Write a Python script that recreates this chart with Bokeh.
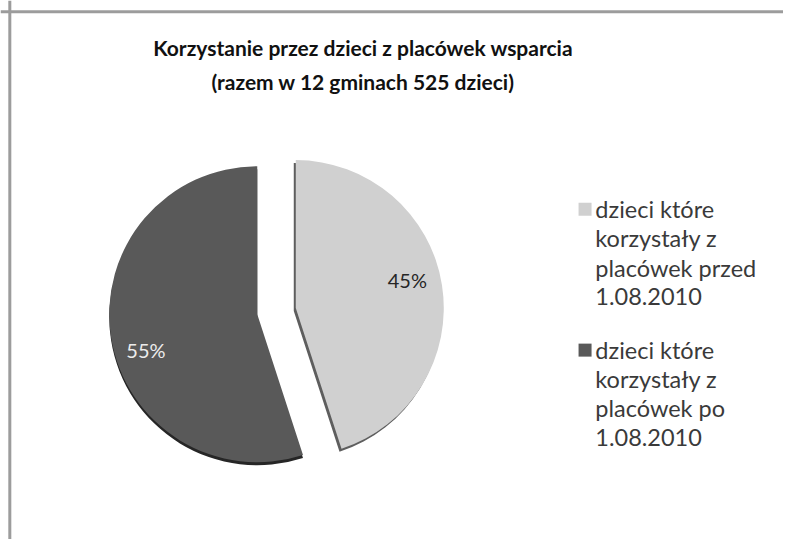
import math
from bokeh.plotting import figure
from bokeh.models import Range1d, Span
from bokeh.core.properties import value
from bokeh.embed import file_html
from bokeh.resources import INLINE

# ---- data ----
title_lines = ["Korzystanie przez dzieci z placówek wsparcia",
               "(razem w 12 gminach 525 dzieci)"]
categories = ["dzieci które korzystały z placówek przed 1.08.2010",
              "dzieci  które korzystały z placówek po 1.08.2010"]
legend_lines = [["dzieci które", "korzystały z", "placówek przed", "1.08.2010"],
                ["dzieci  które", "korzystały z", "placówek po", "1.08.2010"]]
shares = [45, 55]
pct_labels = ["45%", "55%"]
colors = ["#d0d0d0", "#595959"]
edge_colors = ["#5e5e5e", "#262626"]
label_colors = ["#262626", "#ececec"]

W, H = 783, 539
REF_W, REF_H = 799, 555
KX, KY = W / REF_W, H / REF_H
FONT = "Lato"

def sx(x):
    return x * KX

def sy(y):
    return H - y * KY

p = figure(width=W, height=H, output_backend="svg", toolbar_location=None,
           x_range=Range1d(0, W), y_range=Range1d(0, H), min_border=0,
           background_fill_color="white", border_fill_color="white")
p.axis.visible = False
p.grid.visible = False
p.outline_line_color = None

# frame (left and top edges visible in the reference)
p.add_layout(Span(location=sx(9.5), dimension="height", line_color="#9c9c9c", line_width=3))
p.add_layout(Span(location=sy(11.5), dimension="width", line_color="#9c9c9c", line_width=3))

# title
for i, t in enumerate(title_lines):
    p.text(x=[sx(370)], y=[sy(48 + 35 * i)], text=[t], text_align="center",
           text_baseline="middle", text_font=value(FONT), text_font_style="bold",
           text_font_size="21px", text_color="#111111")

# pie
cx, cy = sx(262), sy(323)
r = 148
explode = [39, 0]
label_r = [115, 117]
label_adj = [5, 9]
total = float(sum(shares))
start = 90.0
for i, v in enumerate(shares):
    sweep = 360.0 * v / total
    a0 = start - sweep
    a1 = start
    start = a0
    mid = math.radians((a0 + a1) / 2)
    ox = cx + explode[i] * math.cos(mid)
    oy = cy + explode[i] * math.sin(mid)
    # 3D edge
    dx, dy = (-2, -3) if i == 0 else (0, -3)
    p.wedge(x=[ox + dx], y=[oy + dy], radius=r, start_angle=math.radians(a0),
            end_angle=math.radians(a1), fill_color=edge_colors[i], line_color=None)
    p.wedge(x=[ox], y=[oy], radius=r, start_angle=math.radians(a0),
            end_angle=math.radians(a1), fill_color=colors[i], line_color=None)
    la = mid + math.radians(label_adj[i])
    p.text(x=[ox + label_r[i] * math.cos(la)], y=[oy + label_r[i] * math.sin(la)],
           text=[pct_labels[i]], text_align="center", text_baseline="middle",
           text_font=value(FONT), text_font_size="20px", text_color=label_colors[i])

# legend
lx, ly0 = sx(596.5), sy(215)
item_gap = 145 * KY
line_gap = 30 * KY
for i, lines in enumerate(legend_lines):
    y0 = ly0 - i * item_gap
    p.rect(x=[lx], y=[y0], width=13, height=13, width_units="screen",
           height_units="screen", fill_color=colors[i], line_color=None)
    for j, t in enumerate(lines):
        p.text(x=[sx(607)], y=[y0 - j * line_gap], text=[t], text_align="left",
               text_baseline="middle", text_font=value(FONT),
               text_font_size="23.5px", text_color="#3a3a3a")

open("out.html", "w").write(file_html(p, INLINE))
